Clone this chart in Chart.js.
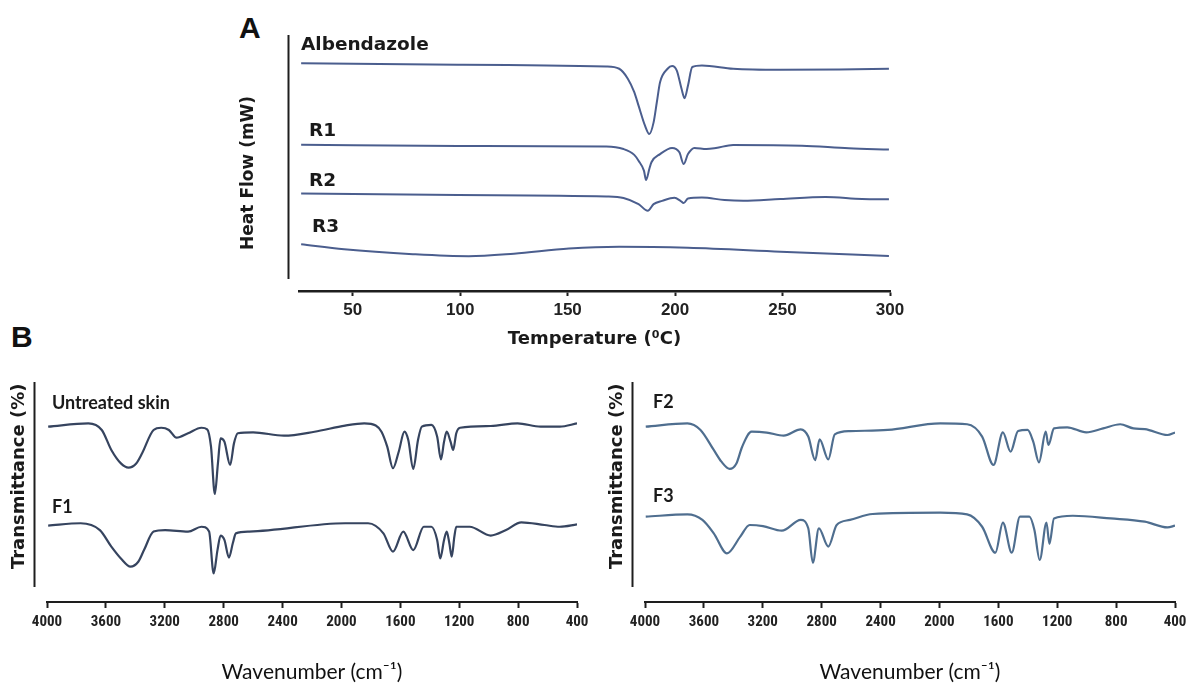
<!DOCTYPE html>
<html>
<head>
<meta charset="utf-8">
<script src="https://cdn.jsdelivr.net/npm/chart.js@4.4.1/dist/chart.umd.min.js"></script>
<style>
  html, body { margin:0; padding:0; background:#ffffff; width:1192px; height:689px; overflow:hidden; }
  body { position:relative; }
  .box { position:absolute; }
  .letter { position:absolute; font-family:'Liberation Sans', Arial, sans-serif; font-weight:bold; font-size:30px; line-height:1; color:#111; }
</style>
</head>
<body>
<div class="letter" style="left:239px;top:13px">A</div>
<div class="letter" style="left:11px;top:322px">B</div>
<div class="box" style="left:200px;top:0px;width:760px;height:360px"><canvas id="chartA"></canvas></div>
<div class="box" style="left:0px;top:320px;width:600px;height:369px"><canvas id="chartB1"></canvas></div>
<div class="box" style="left:600px;top:320px;width:592px;height:369px"><canvas id="chartB2"></canvas></div>
<script>
// ---------------- Panel A: DSC (temperature °C vs heat flow, arbitrary offset units) ----------------
const tempTicks = [50, 100, 150, 200, 250, 300];

const albT  = [26, 99, 168, 174, 178, 181, 183, 186, 188, 190, 191.5, 193, 196.5, 198.6, 200.8, 203, 204.4, 206, 208, 212.5, 227, 249, 276.5, 299.5];
const albHF = [89.7, 89.1, 88.4, 87.5, 83.6, 78.3, 73.0, 65.1, 61.8, 66.4, 74.3, 82.2, 87.5, 88.6, 86.8, 79.6, 75.9, 80.9, 88.2, 88.8, 87.5, 87.1, 87.2, 87.5];

const r1T  = [26, 99, 168, 176, 181, 183, 185.5, 186.5, 188, 189, 193, 198.6, 202, 204, 206, 209, 214.6, 219, 227, 259, 280.8, 299.5];
const r1HF = [57.6, 57.1, 56.9, 55.9, 53.6, 51.3, 47.4, 43.7, 48.0, 50.7, 53.9, 56.3, 54.6, 50.0, 53.9, 56.3, 55.9, 56.3, 57.5, 57.2, 56.2, 55.7];

const r2T  = [26, 99, 168, 176, 183, 187.3, 190, 194, 199.7, 202.5, 204, 206, 212.5, 223, 231.7, 249, 270, 287, 299.5];
const r2HF = [38.4, 37.8, 37.2, 36.6, 34.2, 31.6, 34.2, 35.5, 36.7, 35.5, 34.6, 36.4, 36.8, 35.8, 35.5, 36.2, 37.0, 36.2, 36.1];

const r3T  = [26, 46, 78, 104, 125, 150.6, 174, 206, 249, 299.5];
const r3HF = [18.4, 16.4, 14.5, 13.7, 14.7, 16.7, 17.4, 17.0, 15.5, 13.8];

// ---------------- Panel B: FTIR (wavenumber cm-1 vs transmittance, offset units) ----------------
const wnTicks = [4000, 3600, 3200, 2800, 2400, 2000, 1600, 1200, 800, 400];

const skinWn = [3992, 3719, 3628, 3563, 3498, 3446, 3394, 3354, 3276, 3224, 3172, 3120, 3042, 2951, 2912, 2886, 2860, 2839, 2821, 2795, 2756, 2730, 2704, 2600, 2391, 2183, 1975, 1845, 1767, 1728, 1689, 1650, 1611, 1572, 1546, 1512, 1480, 1454, 1389, 1350, 1324, 1303, 1285, 1259, 1241, 1220, 1194, 986, 804, 647, 517, 400];
const skinTr = [79.7, 81.2, 78.2, 69.1, 63.0, 61.1, 63.0, 67.6, 78.2, 79.2, 78.2, 74.7, 76.7, 79.2, 78.5, 70.6, 49.1, 63.0, 74.4, 72.9, 62.3, 72.1, 76.7, 77.1, 75.6, 77.4, 80.2, 81.2, 80.2, 77.4, 70.6, 60.8, 68.3, 77.4, 73.6, 60.5, 73.6, 79.7, 80.5, 75.2, 64.8, 72.9, 77.4, 72.9, 69.1, 76.7, 79.2, 80.0, 81.2, 79.7, 79.7, 81.2];

const f1Wn = [3992, 3771, 3641, 3563, 3498, 3433, 3380, 3341, 3276, 3198, 3042, 2951, 2899, 2868, 2842, 2821, 2795, 2764, 2738, 2717, 2626, 1975, 1819, 1715, 1650, 1580, 1512, 1441, 1389, 1350, 1329, 1303, 1285, 1267, 1251, 1233, 1220, 1129, 986, 882, 778, 621, 517, 400];
const f1Tr = [34.7, 35.8, 32.7, 25.2, 19.8, 16.1, 18.3, 23.6, 32.0, 32.7, 32.0, 34.2, 32.0, 13.0, 23.6, 30.2, 28.2, 20.2, 26.7, 31.2, 32.0, 35.8, 35.8, 31.2, 22.9, 32.0, 23.6, 34.2, 34.2, 28.2, 19.8, 28.2, 32.0, 26.7, 20.6, 29.7, 34.2, 34.2, 30.2, 32.7, 36.2, 35.0, 34.2, 35.3];

const f2Wn = [3995, 3712, 3623, 3533, 3481, 3425, 3379, 3340, 3276, 3173, 3058, 2942, 2891, 2844, 2814, 2755, 2711, 2608, 2351, 1994, 1812, 1710, 1633, 1569, 1517, 1466, 1401, 1363, 1324, 1278, 1260, 1222, 1132, 1003, 888, 772, 682, 605, 451, 400];
const f2Tr = [79.7, 81.2, 78.2, 69.1, 63.8, 60.5, 63.0, 70.6, 77.4, 77.0, 75.6, 78.5, 75.2, 64.5, 73.9, 64.8, 76.2, 77.7, 78.2, 81.2, 80.8, 75.2, 62.3, 77.1, 68.3, 77.7, 78.2, 72.9, 63.5, 77.4, 71.4, 78.9, 79.4, 77.1, 78.9, 80.8, 78.9, 78.6, 75.9, 77.0];

const f3Wn = [3995, 3712, 3610, 3533, 3443, 3353, 3289, 3199, 3071, 2942, 2891, 2860, 2819, 2755, 2698, 2608, 2454, 1994, 1812, 1710, 1620, 1569, 1509, 1453, 1389, 1355, 1319, 1273, 1253, 1222, 1094, 837, 605, 451, 400];
const f3Tr = [38.8, 39.8, 37.3, 31.2, 22.1, 29.7, 35.0, 34.5, 32.4, 37.3, 33.5, 17.9, 33.5, 25.2, 35.0, 37.3, 40.0, 40.6, 39.8, 34.2, 22.4, 36.1, 22.4, 38.8, 38.8, 32.7, 19.1, 36.1, 26.4, 38.0, 39.2, 38.0, 36.5, 33.9, 34.7];

// ---------------- helpers ----------------
const pts = (xs, ys) => xs.map((x, i) => ({ x: x, y: ys[i] }));
const TEXT = '#1a1a1a';
const AXIS = '#1e1e1e';

const offsetAxisPlugin = {
  id: 'offsetAxis',
  afterDraw(chart, args, o) {
    const { ctx, chartArea } = chart;
    ctx.save();
    // detached y-axis line (Prism style)
    ctx.strokeStyle = o.color;
    ctx.lineWidth = o.width;
    const x = Math.round(chartArea.left - o.gap) + 0.5;
    ctx.beginPath();
    ctx.moveTo(x, chartArea.top - o.extendTop);
    ctx.lineTo(x, chartArea.bottom - o.shortBottom);
    ctx.stroke();
    // series name labels
    ctx.fillStyle = o.labelColor;
    ctx.font = o.labelFont;
    ctx.textAlign = 'left';
    ctx.textBaseline = 'middle';
    const yScale = chart.scales.y;
    chart.data.datasets.forEach((ds, i) => {
      const a = o.anchors[i];
      if (!a) return;
      ctx.fillText(ds.label, chartArea.left + a.dx, yScale.getPixelForValue(a.value));
    });
    ctx.restore();
  }
};

function lineDs(label, xs, ys, color, w) {
  return {
    label: label,
    data: pts(xs, ys),
    borderColor: color,
    borderWidth: w,
    pointRadius: 0,
    fill: false,
    cubicInterpolationMode: 'monotone'
  };
}

const plainTick = v => String(v);

// ---------------- Chart A ----------------
const colA = '#4b5e8e';
new Chart(document.getElementById('chartA'), {
  type: 'line',
  data: {
    datasets: [
      lineDs('Albendazole', albT, albHF, colA, 2),
      lineDs('R1', r1T, r1HF, colA, 2),
      lineDs('R2', r2T, r2HF, colA, 2),
      lineDs('R3', r3T, r3HF, colA, 2)
    ]
  },
  options: {
    responsive: true,
    maintainAspectRatio: false,
    animation: false,
    layout: { padding: { left: 30, right: 70, top: 37, bottom: 10 } },
    plugins: {
      legend: { display: false },
      tooltip: { enabled: false },
      offsetAxis: {
        color: AXIS, width: 2, gap: 11, extendTop: 2, shortBottom: 12,
        labelColor: TEXT, labelFont: 'bold 18.5px "DejaVu Sans", Verdana, sans-serif',
        anchors: [ { dx: 2, value: 96.8 }, { dx: 10, value: 63.0 }, { dx: 10, value: 43.3 }, { dx: 13, value: 25.1 } ]
      }
    },
    scales: {
      x: {
        type: 'linear', min: 25, max: 300,
        afterBuildTicks: s => { s.ticks = tempTicks.map(v => ({ value: v })); },
        ticks: { color: '#222', autoSkip: false, maxRotation: 0, padding: 4, callback: plainTick,
                 font: { family: '"Liberation Sans", Arial, sans-serif', size: 17, weight: 'bold' } },
        grid: { display: true, drawOnChartArea: false, drawTicks: true, tickLength: 5, tickWidth: 2, tickColor: AXIS },
        border: { display: true, color: AXIS, width: 2.5 },
        title: { display: true, text: 'Temperature (\u2070C)', color: TEXT, padding: { top: 0, bottom: 0 },
                 font: { family: '"DejaVu Sans", Verdana, sans-serif', size: 18, weight: 'bold' } },
        afterFit: s => { s.height = 59; }
      },
      y: {
        min: 0, max: 100,
        ticks: { display: false },
        grid: { display: false, drawTicks: false },
        border: { display: false },
        title: { display: true, text: 'Heat Flow (mW)   ', color: TEXT, padding: { top: 8, bottom: 0 },
                 font: { family: '"DejaVu Sans", Verdana, sans-serif', size: 17, weight: 'bold' } },
        afterFit: s => { s.width = 69; }
      }
    }
  },
  plugins: [offsetAxisPlugin]
});

// ---------------- Charts B ----------------
function ftirOptions(padLeft, padRight, anchors, gap) {
  return {
    responsive: true,
    maintainAspectRatio: false,
    animation: false,
    layout: { padding: { left: padLeft, right: padRight, top: 62, bottom: 4 } },
    plugins: {
      legend: { display: false },
      tooltip: { enabled: false },
      offsetAxis: {
        color: AXIS, width: 2, gap: gap, extendTop: 0, shortBottom: 15,
        labelColor: TEXT, labelFont: 'bold 18px Lato, "Open Sans", sans-serif',
        anchors: anchors
      }
    },
    scales: {
      x: {
        type: 'linear', min: 400, max: 4000, reverse: true,
        afterBuildTicks: s => { s.ticks = wnTicks.map(v => ({ value: v })); },
        ticks: { color: '#222', autoSkip: false, maxRotation: 0, padding: 5, callback: plainTick,
                 font: { family: '"Liberation Sans Narrow", "Roboto Condensed", "Liberation Sans", sans-serif', size: 15, weight: 'bold' } },
        grid: { display: true, drawOnChartArea: false, drawTicks: true, tickLength: 6, tickWidth: 2, tickColor: AXIS },
        border: { display: true, color: AXIS, width: 2 },
        title: { display: true, text: 'Wavenumber (cm\u207B\u00B9)', color: '#111', padding: { top: 0, bottom: 0 },
                 font: { family: 'Lato, "DejaVu Sans", sans-serif', size: 21, weight: 'normal' } },
        afterFit: s => { s.height = 83; }
      },
      y: {
        min: 0, max: 100,
        ticks: { display: false },
        grid: { display: false, drawTicks: false },
        border: { display: false },
        title: { display: true, text: '     Transmittance (%)', color: TEXT, padding: { top: 5, bottom: 0 },
                 font: { family: '"DejaVu Sans", Verdana, sans-serif', size: 18, weight: 'bold' } },
        afterFit: s => { s.width = 43; }
      }
    }
  };
}

const colB1 = '#36445f';
new Chart(document.getElementById('chartB1'), {
  type: 'line',
  data: {
    datasets: [
      lineDs('Untreated skin', skinWn, skinTr, colB1, 2.2),
      lineDs('F1', f1Wn, f1Tr, colB1, 2.2)
    ]
  },
  options: ftirOptions(4, 23, [ { dx: 5, value: 90.5 }, { dx: 5, value: 43.2 } ], 13),
  plugins: [offsetAxisPlugin]
});

const colB2 = '#4f6e8f';
new Chart(document.getElementById('chartB2'), {
  type: 'line',
  data: {
    datasets: [
      lineDs('F2', f2Wn, f2Tr, colB2, 2.2),
      lineDs('F3', f3Wn, f3Tr, colB2, 2.2)
    ]
  },
  options: ftirOptions(2, 17, [ { dx: 8, value: 90.9 }, { dx: 8, value: 48.2 } ], 13),
  plugins: [offsetAxisPlugin]
});
</script>
</body>
</html>
